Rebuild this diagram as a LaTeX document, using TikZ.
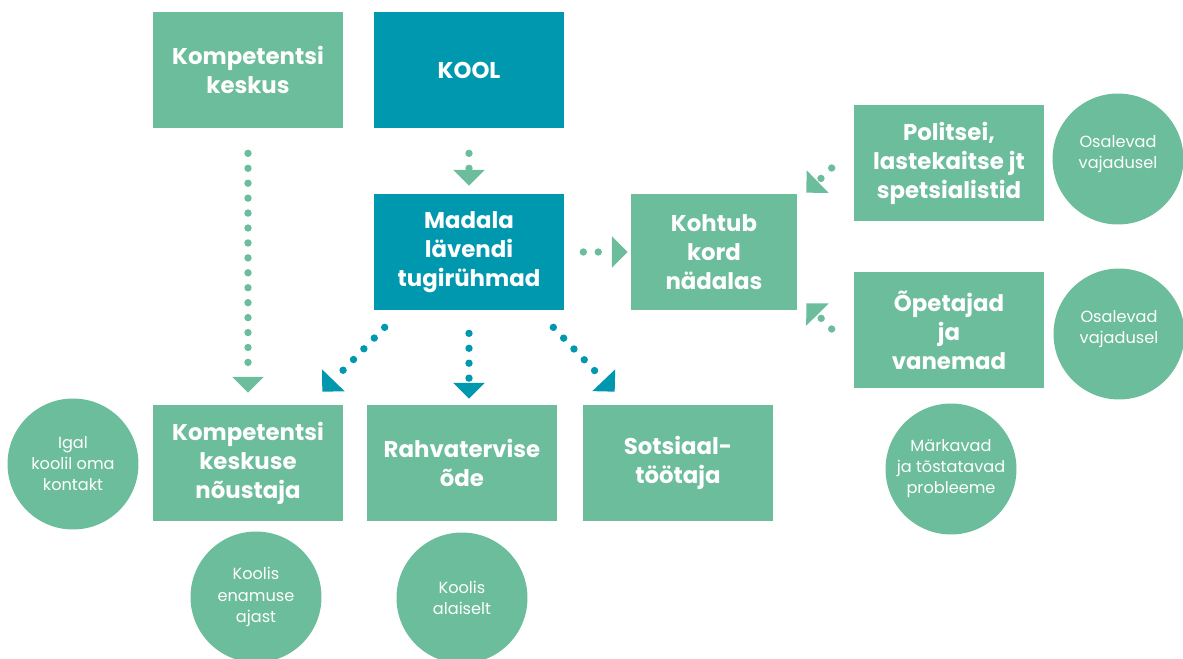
\documentclass[tikz,border=0pt]{standalone}
\usepackage{fontspec}
\setmainfont{Poppins}
\usetikzlibrary{arrows.meta}
\definecolor{kgreen}{RGB}{108,189,156}
\definecolor{kteal}{RGB}{0,152,175}
\tikzset{
  box/.style={fill=kgreen, text=white, font=\fontsize{13}{16.5}\selectfont\bfseries, align=center,
    minimum width=3.8cm, minimum height=2.32cm, inner sep=0pt},
  tealbox/.style={box, fill=kteal},
  note/.style={circle, fill=kgreen, text=white, font=\fontsize{9.2}{12}\selectfont, align=center,
    minimum size=2.62cm, inner sep=0pt},
  garrow/.style={kgreen, line width=4.2pt, line cap=round, dash pattern=on 0pt off 8.5pt,
    -{Triangle[width=18pt,length=9pt,line width=0pt]}},
  tarrow/.style={garrow, kteal},
}
\begin{document}
\begin{tikzpicture}[x=0.02cm,y=-0.02cm]
  \useasboundingbox (0,0) rectangle (1183,659);
  \node[box] (kk) at (248,70) {Kompetentsi\\keskus};
  \node[tealbox] (kool) at (469,70) {KOOL};
  \node[tealbox] (mad) at (469,252) {Madala\\lävendi\\tugirühmad};
  \node[box, minimum width=3.32cm] (koh) at (714,252) {Kohtub\\kord\\nädalas};
  \node[box] (pol) at (949,163) {Politsei,\\lastekaitse jt\\spetsialistid};
  \node[box] (ope) at (949,330) {Õpetajad\\ja\\vanemad};
  \node[box] (nou) at (248,463) {Kompetentsi\\keskuse\\nõustaja};
  \node[box] (rah) at (462,463) {Rahvatervise\\õde};
  \node[box] (sots) at (678,463) {Sotsiaal-\\töötaja};

  \node[note] (igal) at (73,464) {Igal\\koolil oma\\kontakt};
  \node[note] (enam) at (256,597) {Koolis\\enamuse\\ajast};
  \node[note] (alai) at (462,598) {Koolis\\alaiselt};
  \node[note] (osa1) at (1118,159) {Osalevad\\vajadusel\\[-4pt]};
  \node[note] (osa2) at (1119,334) {Osalevad\\vajadusel\\[-4pt]};
  \node[note] (mark) at (951,469) {Märkavad\\ja tõstatavad\\probleeme};

  \draw[garrow, shorten <=0.5cm, shorten >=0.24cm] (kk) -- (nou);
  \draw[garrow, shorten <=0.5cm, shorten >=0.16cm] (kool) -- (mad);
  \draw[garrow, shorten <=0.38cm, shorten >=0.06cm] (mad) -- (koh);
  \draw[tarrow] ([shift={(11,17)}]mad.south west) -- ([shift={(-21,-13)}]nou.north east);
  \draw[tarrow, shorten <=0.46cm, shorten >=0.12cm] (mad.south) -- (mad.south |- rah.north);
  \draw[tarrow] ([shift={(-11,17)}]mad.south east) -- ([shift={(32,-13)}]sots.north west);
  \draw[garrow] ([shift={(-22,5)}]pol.west) -- ([shift={(9,-1)}]koh.north east);
  \draw[garrow] ([shift={(-22,-1)}]ope.west) -- ([shift={(9,-7)}]koh.south east);
\end{tikzpicture}
\end{document}
